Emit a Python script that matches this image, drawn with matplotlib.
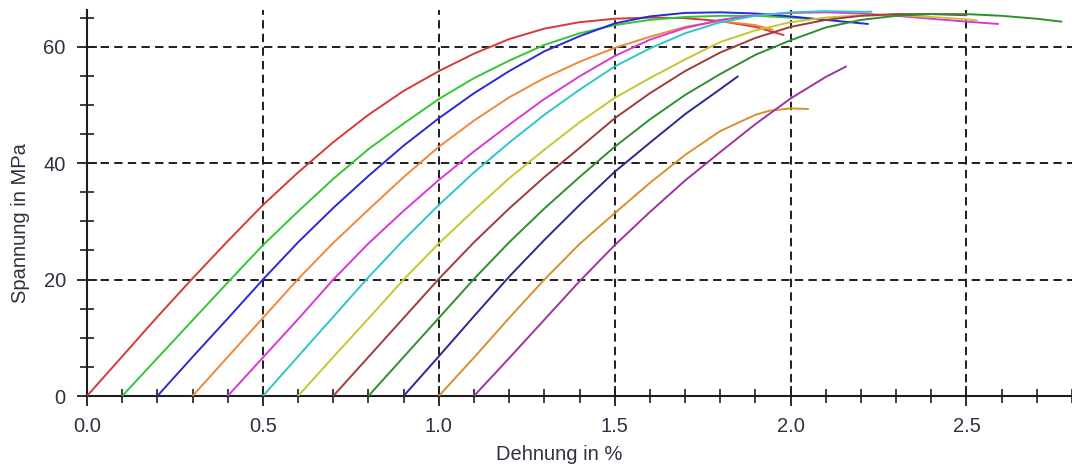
import matplotlib
matplotlib.use("Agg")
import matplotlib.pyplot as plt
from matplotlib.ticker import MultipleLocator

# Stress-strain curves of twelve specimens, each shifted by 0.1 % strain
strain_01 = [0.0, 0.1, 0.2, 0.3, 0.4, 0.5, 0.6, 0.7, 0.8, 0.9, 1.0, 1.1, 1.2, 1.3, 1.4, 1.5, 1.6, 1.7, 1.8, 1.9, 1.98]
stress_01 = [0.0, 6.8, 13.6, 20.2, 26.6, 32.8, 38.4, 43.6, 48.3, 52.4, 55.8, 58.8, 61.3, 63.1, 64.2, 64.8, 65.0, 64.9, 64.4, 63.4, 62.0]

strain_02 = [0.1, 0.2, 0.3, 0.4, 0.5, 0.6, 0.7, 0.8, 0.9, 1.0, 1.1, 1.2, 1.3, 1.4, 1.5, 1.6, 1.7, 1.8, 1.9, 2.0, 2.1]
stress_02 = [0.0, 6.5, 13.0, 19.5, 25.9, 31.7, 37.3, 42.4, 46.8, 51.0, 54.6, 57.6, 60.3, 62.3, 63.7, 64.6, 65.1, 65.3, 65.3, 65.0, 64.6]

strain_03 = [0.2, 0.3, 0.4, 0.5, 0.6, 0.7, 0.8, 0.9, 1.0, 1.1, 1.2, 1.3, 1.4, 1.5, 1.6, 1.7, 1.8, 1.9, 2.0, 2.1, 2.22]
stress_03 = [0.0, 6.7, 13.3, 20.0, 26.4, 32.3, 37.8, 43.0, 47.7, 52.0, 55.8, 59.2, 61.8, 64.0, 65.2, 65.8, 65.9, 65.7, 65.2, 64.6, 63.9]

strain_04 = [0.3, 0.4, 0.5, 0.6, 0.7, 0.8, 0.9, 1.0, 1.1, 1.2, 1.3, 1.4, 1.5, 1.6, 1.7, 1.8, 1.9, 1.95]
stress_04 = [0.0, 6.7, 13.4, 20.1, 26.3, 32.0, 37.6, 42.8, 47.3, 51.3, 54.6, 57.4, 59.8, 61.7, 63.4, 64.4, 63.7, 62.9]

strain_05 = [0.4, 0.5, 0.6, 0.7, 0.8, 0.9, 1.0, 1.1, 1.2, 1.3, 1.4, 1.5, 1.6, 1.7, 1.8, 1.9, 2.0, 2.1, 2.2, 2.3, 2.4, 2.5, 2.59]
stress_05 = [0.0, 6.6, 13.2, 20.0, 26.2, 31.8, 37.1, 42.0, 46.6, 51.0, 54.9, 58.4, 61.2, 63.2, 64.6, 65.4, 65.8, 65.9, 65.7, 65.3, 64.8, 64.3, 63.9]

strain_06 = [0.5, 0.6, 0.7, 0.8, 0.9, 1.0, 1.1, 1.2, 1.3, 1.4, 1.5, 1.6, 1.7, 1.8, 1.9, 2.0, 2.1, 2.2, 2.23]
stress_06 = [0.0, 6.8, 13.6, 20.4, 26.8, 32.8, 38.4, 43.5, 48.3, 52.6, 56.6, 59.7, 62.3, 64.2, 65.3, 65.9, 66.1, 66.0, 66.0]

strain_07 = [0.6, 0.7, 0.8, 0.9, 1.0, 1.1, 1.2, 1.3, 1.4, 1.5, 1.6, 1.7, 1.8, 1.9, 2.0, 2.1, 2.2, 2.3, 2.4, 2.5, 2.53]
stress_07 = [0.0, 6.7, 13.3, 20.0, 26.2, 31.9, 37.4, 42.3, 47.0, 51.2, 54.6, 57.8, 60.8, 62.8, 64.2, 65.0, 65.4, 65.4, 65.1, 64.7, 64.5]

strain_08 = [0.7, 0.8, 0.9, 1.0, 1.1, 1.2, 1.3, 1.4, 1.5, 1.6, 1.7, 1.8, 1.9, 2.0, 2.1, 2.2, 2.3, 2.4, 2.5]
stress_08 = [0.0, 6.7, 13.4, 20.1, 26.4, 32.2, 37.6, 42.6, 47.7, 52.0, 55.8, 59.0, 61.5, 63.4, 64.6, 65.3, 65.6, 65.6, 65.4]

strain_09 = [0.8, 0.9, 1.0, 1.1, 1.2, 1.3, 1.4, 1.5, 1.6, 1.7, 1.8, 1.9, 2.0, 2.1, 2.2, 2.3, 2.4, 2.5, 2.6, 2.7, 2.77]
stress_09 = [0.0, 6.7, 13.4, 20.1, 26.4, 32.2, 37.6, 42.8, 47.5, 51.7, 55.3, 58.6, 61.1, 63.3, 64.6, 65.3, 65.6, 65.6, 65.3, 64.8, 64.3]

strain_10 = [0.9, 1.0, 1.1, 1.2, 1.3, 1.4, 1.5, 1.6, 1.7, 1.8, 1.85]
stress_10 = [0.0, 6.8, 13.7, 20.5, 26.8, 32.8, 38.5, 43.5, 48.4, 52.7, 54.9]

strain_11 = [1.0, 1.1, 1.2, 1.3, 1.4, 1.5, 1.6, 1.7, 1.8, 1.9, 1.94, 2.0, 2.05]
stress_11 = [0.0, 6.6, 13.4, 20.0, 26.1, 31.4, 36.6, 41.4, 45.5, 48.3, 49.0, 49.4, 49.3]

strain_12 = [1.1, 1.2, 1.3, 1.4, 1.5, 1.6, 1.7, 1.8, 1.9, 2.0, 2.1, 2.158]
stress_12 = [0.0, 6.5, 13.1, 19.7, 25.9, 31.6, 37.0, 41.9, 46.7, 51.1, 54.8, 56.6]

curves = [
    (strain_01, stress_01, "#d43a3a"),
    (strain_02, stress_02, "#33c733"),
    (strain_03, stress_03, "#2a2ad6"),
    (strain_04, stress_04, "#f0883a"),
    (strain_05, stress_05, "#d63ad6"),
    (strain_06, stress_06, "#2ec6c6"),
    (strain_07, stress_07, "#c6c632"),
    (strain_08, stress_08, "#a03c3c"),
    (strain_09, stress_09, "#2e8f2e"),
    (strain_10, stress_10, "#2a2a92"),
    (strain_11, stress_11, "#d8902e"),
    (strain_12, stress_12, "#a032a0"),
]

x_ticks = [0.0, 0.5, 1.0, 1.5, 2.0, 2.5]
y_ticks = [0, 20, 40, 60]
x_label = "Dehnung in %"
y_label = "Spannung in MPa"

plt.rcParams["font.family"] = ["Liberation Sans", "DejaVu Sans"]
text_color = "#303040"
axis_color = "#1e1e1e"

W, H = 1072, 468
fig = plt.figure(figsize=(W / 100, H / 100), dpi=100)
ax = fig.add_axes([87 / W, (H - 396) / H, (W - 87) / W, (396 - 10) / H])

for xs, ys, col in curves:
    ax.plot(xs, ys, color=col, lw=1.4, solid_capstyle="round",
            solid_joinstyle="round", zorder=3)

ax.set_xlim(0, 2.8)
ax.set_ylim(0, 66.3)

ax.set_xticks(x_ticks)
ax.set_xticklabels([f"{v:.1f}" for v in x_ticks])
ax.set_yticks(y_ticks)
ax.set_yticklabels([str(v) for v in y_ticks])
ax.xaxis.set_minor_locator(MultipleLocator(0.1))
ax.yaxis.set_minor_locator(MultipleLocator(5))

ax.tick_params(which="major", direction="inout", length=14.5, width=1.3,
               color=axis_color, labelsize=14.5, labelcolor=text_color, pad=8)
ax.tick_params(which="minor", direction="inout", length=9.5, width=1.2,
               color=axis_color)

for side in ("top", "right"):
    ax.spines[side].set_visible(False)
for side in ("left", "bottom"):
    ax.spines[side].set_color(axis_color)
    ax.spines[side].set_linewidth(1.5)

ax.grid(True, which="major", color="#1e1e1e", lw=1.4, linestyle=(0, (4.3, 2.7)), zorder=1)
ax.set_axisbelow(True)

fig.text(559 / W, (H - 454) / H, x_label, ha="center", va="center",
         fontsize=14.5, color=text_color)
fig.text(21 / W, (H - 223) / H, y_label, ha="center", va="center",
         rotation=90, fontsize=14.5, color=text_color)

fig.savefig("out.png", dpi=100, facecolor="white")
